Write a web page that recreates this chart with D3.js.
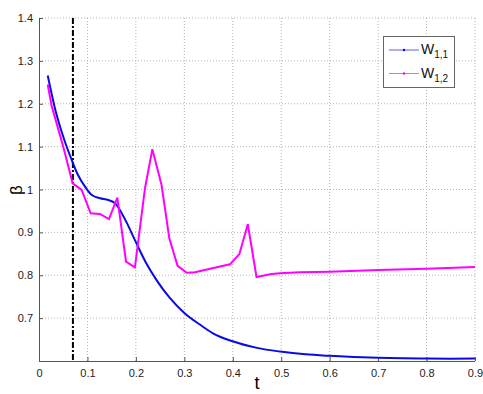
<!DOCTYPE html>
<html><head><meta charset="utf-8">
<script src="https://cdn.jsdelivr.net/npm/d3@7"></script>
<style>body{margin:0;background:#fff}svg{display:block}</style>
</head><body>
<svg id="c" width="483" height="394"></svg>
<script>
const xTicks = [0,0.1,0.2,0.3,0.4,0.5,0.6,0.7,0.8,0.9];
const yTicks = [0.7,0.8,0.9,1,1.1,1.2,1.3,1.4];
const markerT = 0.07;
const tBlue = [0.018,0.035,0.053,0.0675,0.08,0.095,0.109,0.126,0.143,0.157,0.18,0.198,0.22,0.243,0.27,0.3,0.332,0.36,0.398,0.45,0.4975,0.55,0.601,0.65,0.7,0.75,0.8,0.85,0.9];
const vBlue = [1.266,1.18,1.113,1.069,1.035,1.0066,0.987,0.9795,0.9755,0.968,0.925,0.882,0.831,0.788,0.747,0.712,0.685,0.664,0.6466,0.6306,0.622,0.6155,0.612,0.6095,0.6077,0.6065,0.6057,0.6055,0.6057];
const tMag = [0.018,0.026,0.05,0.0695,0.088,0.1067,0.126,0.1445,0.1617,0.1796,0.198,0.2188,0.234,0.253,0.269,0.286,0.305,0.322,0.394,0.4135,0.431,0.449,0.48,0.4975,0.539,0.6,0.7,0.8,0.9];
const vMag = [1.245,1.195,1.1,1.0145,0.999,0.9445,0.943,0.931,0.981,0.8316,0.8185,1.003,1.094,1.0105,0.886,0.822,0.806,0.807,0.8255,0.849,0.919,0.796,0.803,0.8045,0.807,0.8084,0.812,0.815,0.819];
const seriesNames = ["1,1","1,2"];

const svg = d3.select("#c");
const x = d3.scaleLinear().domain([0,0.9]).range([39,475]);
const y = d3.scaleLinear().domain([0.6,1.4]).range([361,18]);
const font = "'Liberation Sans', Arial, sans-serif";

// grid
const g = svg.append("g");
g.selectAll(".gx").data(xTicks.slice(1)).enter().append("line")
  .attr("x1",d=>x(d)).attr("x2",d=>x(d)).attr("y1",18).attr("y2",361)
  .attr("stroke","#b4b4b4").attr("stroke-width",1).attr("stroke-dasharray","1,2");
g.selectAll(".gy").data(yTicks).enter().append("line")
  .attr("x1",39).attr("x2",475).attr("y1",d=>y(d)).attr("y2",d=>y(d))
  .attr("stroke","#b4b4b4").attr("stroke-width",1).attr("stroke-dasharray","1,2");

// axes
const xAxis = d3.axisBottom(x).tickValues(xTicks).tickSize(-4).tickPadding(8).tickFormat(d3.format("~g"));
const yAxis = d3.axisLeft(y).tickValues(yTicks).tickSize(-4).tickPadding(6).tickFormat(d3.format("~g"));
const ax = svg.append("g").attr("transform","translate(0,361)").call(xAxis);
const ay = svg.append("g").attr("transform","translate(39,0)").call(yAxis);
[ax,ay].forEach(a=>{
  a.select(".domain").attr("stroke","#555").attr("stroke-width",1);
  a.selectAll(".tick line").attr("stroke","#555");
  a.selectAll("text").attr("font-family",font).attr("font-size",11).attr("fill","#222");
});
ay.select(".domain").attr("d","M0.5,361V18");
ax.select(".domain").attr("d","M39,0.5H475");

// dashed marker
svg.append("line").attr("x1",x(markerT)).attr("x2",x(markerT)).attr("y1",18).attr("y2",361)
  .attr("stroke","#000").attr("stroke-width",2).attr("stroke-dasharray","6,2,2,2");

// lines
const lineSmooth = d3.line().x(d=>x(d[0])).y(d=>y(d[1])).curve(d3.curveMonotoneX);
const line = d3.line().x(d=>x(d[0])).y(d=>y(d[1]));
svg.append("path").datum(tBlue.map((t,i)=>[t,vBlue[i]])).attr("d",lineSmooth)
  .attr("fill","none").attr("stroke","#0a0ae6").attr("stroke-width",2);
svg.append("path").datum(tMag.map((t,i)=>[t,vMag[i]])).attr("d",line)
  .attr("fill","none").attr("stroke","#ff00ff").attr("stroke-width",2);

// labels
svg.append("text").attr("transform","translate(22,190) rotate(-90)").attr("text-anchor","middle")
  .attr("font-family",font).attr("font-size",17).text("β");
svg.append("text").attr("x",257).attr("y",389).attr("text-anchor","middle")
  .attr("font-family",font).attr("font-size",18).text("t");

// legend
const lg = svg.append("g");
lg.append("rect").attr("x",383.5).attr("y",36.5).attr("width",71).attr("height",51)
  .attr("fill","#fff").attr("stroke","#666").attr("stroke-width",1);
const colors = ["#6060e0","#f060f0"];
const dots = ["#0000ff","#ff00ff"];
seriesNames.forEach((s,i)=>{
  const yy = 50 + i*23.5;
  lg.append("line").attr("x1",389).attr("x2",419).attr("y1",yy).attr("y2",yy)
    .attr("stroke",colors[i]).attr("stroke-width",1);
  lg.append("circle").attr("cx",404).attr("cy",yy).attr("r",1.2).attr("fill",dots[i]);
  const t = lg.append("text").attr("x",421).attr("y",yy+4).attr("font-family",font).attr("font-size",14).attr("fill","#111");
  t.append("tspan").text("W");
  t.append("tspan").attr("font-size",10).attr("dy",4).text(s);
});
</script>
</body></html>
